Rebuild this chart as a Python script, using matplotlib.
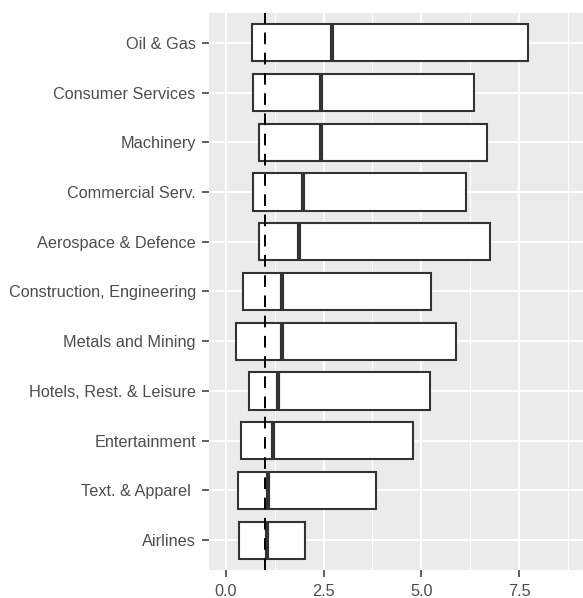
import matplotlib
matplotlib.use("Agg")
import matplotlib.pyplot as plt
from matplotlib.patches import Rectangle

# Sectors listed top to bottom
sectors = ["Oil & Gas", "Consumer Services", "Machinery", "Commercial Serv.",
           "Aerospace & Defence", "Construction, Engineering", "Metals and Mining",
           "Hotels, Rest. & Leisure", "Entertainment", "Text. & Apparel ", "Airlines"]
lower = [0.67, 0.70, 0.84, 0.70, 0.85, 0.44, 0.25, 0.58, 0.38, 0.32, 0.34]
middle = [2.71, 2.42, 2.42, 1.97, 1.86, 1.43, 1.43, 1.34, 1.20, 1.07, 1.04]
upper = [7.74, 6.36, 6.69, 6.14, 6.76, 5.25, 5.89, 5.22, 4.80, 3.83, 2.03]
ref_value = 1.0
x_ticks = [0.0, 2.5, 5.0, 7.5]
x_minor = [1.25, 3.75, 6.25, 8.75]

plt.rcParams["font.family"] = ["Liberation Sans", "DejaVu Sans"]

W, H, DPI = 583, 598, 100
fig = plt.figure(figsize=(W / DPI, H / DPI), dpi=DPI)
ax = fig.add_axes([209 / W, 28 / H, (583 - 209) / W, 557 / H])
ax.set_facecolor("#EBEBEB")

n = len(sectors)
ypos = [n - i for i in range(n)]

ax.set_xlim(-0.435, 9.14)
ax.set_ylim(0.4, n + 0.6)

# grid
for xm in x_minor:
    ax.axvline(xm, color="white", lw=0.8, zorder=0.5)
for xt in x_ticks:
    ax.axvline(xt, color="white", lw=1.5, zorder=0.6)
for y in ypos:
    ax.axhline(y, color="white", lw=1.5, zorder=0.6)

# crossbars
bw = 0.75
for y, lo, mid, hi in zip(ypos, lower, middle, upper):
    ax.add_patch(Rectangle((lo, y - bw / 2), hi - lo, bw, facecolor="white",
                           edgecolor="#333333", lw=1.5, zorder=2))
    ax.plot([mid, mid], [y - bw / 2, y + bw / 2], color="#333333", lw=3.0,
            solid_capstyle="butt", zorder=3)

ax.axvline(ref_value, color="black", lw=1.4, linestyle=(0, (6.0, 4.4)), zorder=4)

ax.set_yticks(ypos)
ax.set_yticklabels(sectors)
ax.set_xticks(x_ticks)
ax.set_xticklabels([f"{v:.1f}" for v in x_ticks])
ax.tick_params(axis="both", colors="#333333", length=5, width=1.1,
               labelcolor="#4D4D4D", labelsize=11.7)
ax.tick_params(axis="y", pad=4.5)
ax.tick_params(axis="x", pad=5)
for s in ax.spines.values():
    s.set_visible(False)

fig.savefig("out.png", dpi=DPI)
